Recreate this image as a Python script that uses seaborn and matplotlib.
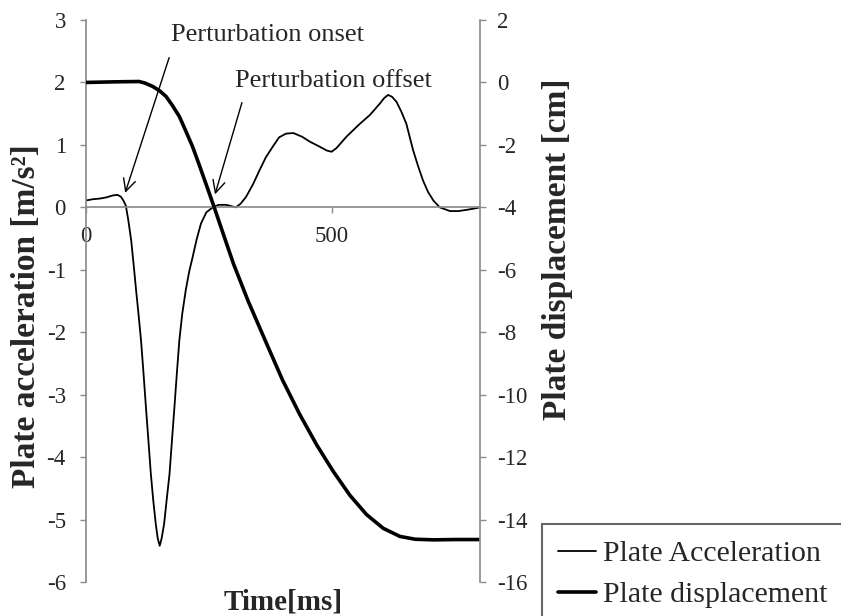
import matplotlib
matplotlib.use('Agg')
import matplotlib.pyplot as plt
import seaborn as sns

# plate acceleration [m/s2] vs time [ms]
time_acc = [0, 14, 28, 42, 54, 64, 71, 76, 81, 86, 92, 97, 102, 107, 112, 117, 122, 127,
            132, 137, 142, 146, 150, 154, 159, 164, 170, 175, 180, 185, 190, 196, 203, 210,
            217, 225, 234, 245, 258, 270, 285, 295, 305, 315, 326, 340, 353, 366, 380, 393,
            407, 422, 440, 456, 476, 490, 500, 510, 530, 555, 578, 598, 607, 615, 623, 632,
            642, 652, 666, 676, 686, 696, 707, 720, 741, 758, 775, 790, 802]
acc = [0.11, 0.13, 0.14, 0.16, 0.19, 0.2, 0.17, 0.11, 0.03, -0.2, -0.53, -0.92, -1.33,
       -1.72, -2.13, -2.65, -3.2, -3.73, -4.27, -4.7, -5.07, -5.3, -5.42, -5.3, -5.07,
       -4.7, -4.27, -3.73, -3.2, -2.65, -2.13, -1.7, -1.33, -1.03, -0.8, -0.52, -0.26,
       -0.08, 0.0, 0.04, 0.04, 0.02, 0.0, 0.06, 0.17, 0.37, 0.59, 0.8, 0.97, 1.12, 1.18,
       1.19, 1.13, 1.05, 0.97, 0.91, 0.89, 0.95, 1.13, 1.32, 1.48, 1.66, 1.75, 1.80, 1.77,
       1.69, 1.53, 1.34, 0.91, 0.66, 0.43, 0.25, 0.11, 0.0, -0.06, -0.06, -0.04, -0.02, 0.0]

# plate displacement [cm] vs time [ms]
time_disp = [0, 60, 108, 120, 136, 150, 163, 176, 190, 203, 217, 230, 244, 261, 280, 300,
             330, 368, 400, 435, 470, 503, 537, 571, 605, 639, 670, 707, 750, 802]
disp = [0, 0.02, 0.03, -0.02, -0.13, -0.27, -0.45, -0.74, -1.09, -1.55, -2.06, -2.62,
        -3.24, -4.0, -4.88, -5.8, -7.0, -8.38, -9.53, -10.63, -11.62, -12.45, -13.22,
        -13.84, -14.28, -14.54, -14.63, -14.65, -14.64, -14.64]

sns.set_theme(style='white')
plt.rcParams['font.family'] = ['Liberation Serif', 'DejaVu Serif']
plt.rcParams['axes.unicode_minus'] = False

fig = plt.figure(figsize=(8.41, 6.16), dpi=100)
ax = fig.add_axes([86/841, 1-582/616, 394/841, 562/616])
ax2 = ax.twinx()

sns.lineplot(x=time_acc, y=acc, ax=ax, color='black', linewidth=1.3, label='Plate Acceleration')
sns.lineplot(x=time_disp, y=disp, ax=ax2, color='black', linewidth=2.6, label='Plate displacement')

ax.set_xlim(0, 802)
ax.set_ylim(-6, 3)
ax2.set_ylim(-16, 2)
ax.set_xticks([0, 500])
ax.set_yticks(range(-6, 4))
ax2.set_yticks(range(-16, 3, 2))

grey = '#8c8c8c'
for s in ['top', 'right']:
    ax.spines[s].set_visible(False)
ax.spines['bottom'].set_position(('data', 0))
ax.spines['left'].set_color(grey)
ax.spines['bottom'].set_color(grey)
for s in ['top', 'left', 'bottom']:
    ax2.spines[s].set_visible(False)
ax2.spines['right'].set_color(grey)

ax.tick_params(axis='y', left=True, direction='out', length=4.5, width=1, color=grey,
               labelsize=16.5, pad=10)
ax.tick_params(axis='x', bottom=True, direction='out', length=4.5, width=1, color=grey,
               labelsize=16.5, pad=9)
ax2.tick_params(axis='y', right=True, direction='out', length=4.5, width=1, color=grey,
                labelsize=16.5, pad=8)

ax.set_xlabel('Time[ms]', fontsize=21, fontweight='bold')
ax.xaxis.set_label_coords(0.5, -0.012)
ax.set_ylabel('Plate acceleration [m/s²]', fontsize=24, fontweight='bold')
ax.yaxis.set_label_coords(-0.112, 0.473)
ax2.set_ylabel('Plate displacement [cm]', fontsize=24, fontweight='bold')
ax2.yaxis.set_label_coords(1.157, 0.5925)

# annotations
ax.text(174, 2.67, 'Perturbation onset', fontsize=19, ha='left', va='baseline')
ax.text(303, 1.92, 'Perturbation offset', fontsize=19, ha='left', va='baseline')
ax.annotate('', xy=(78, 0.19), xytext=(171, 2.44),
            arrowprops=dict(arrowstyle='->', color='black', lw=1, mutation_scale=22))
ax.annotate('', xy=(261, 0.165), xytext=(319, 1.72),
            arrowprops=dict(arrowstyle='->', color='black', lw=1, mutation_scale=22))

for a in (ax, ax2):
    if a.get_legend() is not None:
        a.get_legend().remove()

h1, l1 = ax.get_legend_handles_labels()
h2, l2 = ax2.get_legend_handles_labels()
leg = fig.legend(h1 + h2, l1 + l2, loc='upper left', bbox_to_anchor=(542/841, 1-524/616),
                 fontsize=21.5, frameon=True, fancybox=False, handlelength=1.27,
                 handletextpad=0.23, borderpad=0.55, labelspacing=0.47, borderaxespad=0)
leg.get_frame().set_edgecolor('#404040')
leg.get_frame().set_linewidth(1.5)

fig.savefig('out.png', dpi=100)
